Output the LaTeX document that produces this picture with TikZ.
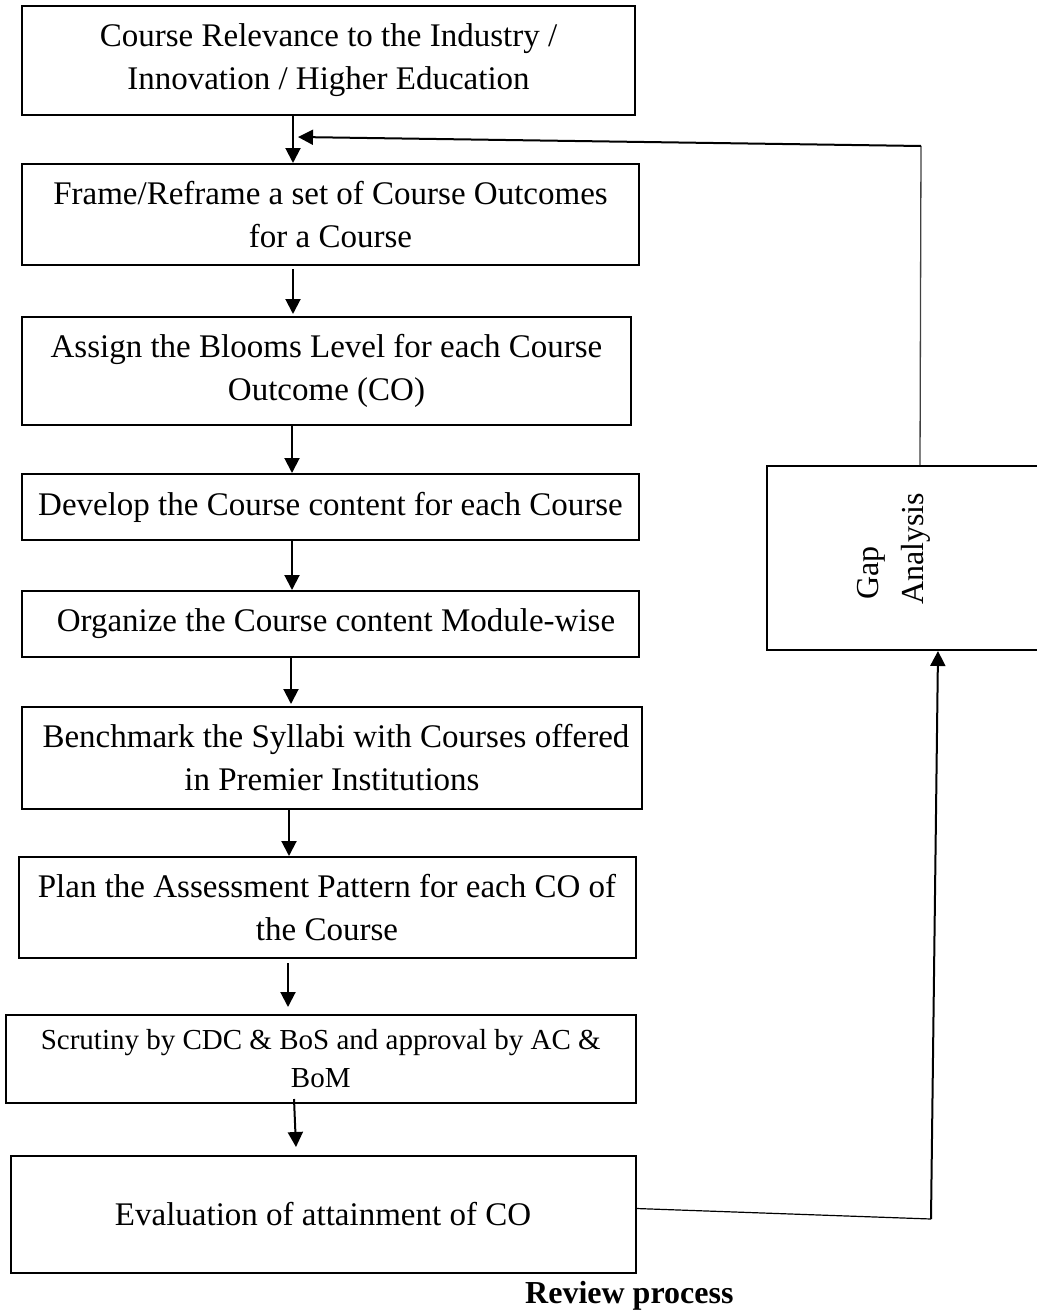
\documentclass[tikz,border=0pt]{standalone}
\usepackage{fontspec}
\setmainfont{Liberation Serif}
\usetikzlibrary{arrows.meta}
\begin{document}
\begin{tikzpicture}[x=1pt,y=-1pt,
  box/.style={draw, line width=2pt, align=center, inner sep=0pt,
              font=\fontsize{33}{43}\selectfont},
  smallbox/.style={box, font=\fontsize{29}{38}\selectfont},
  arr/.style={line width=2pt, -{Triangle[length=15pt,width=15pt]}},
  thinline/.style={line width=1.2pt},
  greyline/.style={line width=1.3pt, black!75},
  rottext/.style={rotate=90, anchor=base west, inner sep=0pt,
              font=\fontsize{32}{43}\selectfont},
]
\useasboundingbox (0,0) rectangle (1036,1314);
\fill[white] (0,0) rectangle (1036,1314);

\node[box, minimum width=613pt, minimum height=109pt] (b1) at (328.5,60.5)
  {Course Relevance to the Industry /\\Innovation / Higher Education};
\node[box, minimum width=617pt, minimum height=101pt] (b2) at (330.5,214.5)
  {Frame/Reframe a set of Course Outcomes\\for a Course};
\node[box, minimum width=609pt, minimum height=108pt] (b3) at (326.5,371)
  {Assign the Blooms Level for each Course\\Outcome (CO)};
\node[box, minimum width=617pt, minimum height=66pt] (b4) at (330.5,507)
  {Develop the Course content for each Course};
\node[box, minimum width=617pt, minimum height=66pt] (b5) at (330.5,624)
  {\hspace*{11pt}Organize the Course content Module-wise};
\node[box, minimum width=620pt, minimum height=102pt] (b6) at (332,758)
  {\hspace*{8pt}Benchmark the Syllabi with Courses offered\\in Premier Institutions};
\node[box, minimum width=617pt, minimum height=101pt] (b7) at (327,907.5)
  {Plan the Assessment Pattern for each CO of\\the Course};
\node[smallbox, minimum width=629.5pt, minimum height=88pt] (b8) at (320.75,1059)
  {Scrutiny by CDC \& BoS and approval by AC \&\\BoM};
\node[box, minimum width=625pt, minimum height=117pt] (b9) at (323,1214.5)
  {Evaluation of attainment of CO};

\node[draw, line width=2pt, minimum width=278pt, minimum height=184pt] (gap) at (906,558) {};
\node[rottext] (gapt1) at (878,600) {Gap};
\node[rottext] (gapt2) at (923,605) {Analysis};

\node[anchor=base west, inner sep=0pt, font=\fontsize{32}{38}\selectfont\bfseries] (rev) at (525,1303) {Review process};

% main flow arrows
\draw[arr] ([xshift=-35.5pt]b1.south) -- ([xshift=-37.5pt]b2.north);
\draw[arr] ([xshift=-37.5pt,yshift=-3pt]b2.south) -- ([xshift=-33.5pt,yshift=2pt]b3.north);
\draw[arr] ([xshift=-34.5pt]b3.south) -- ([xshift=-38.5pt]b4.north);
\draw[arr] ([xshift=-38.5pt]b4.south) -- ([xshift=-38.5pt]b5.north);
\draw[arr] ([xshift=-39.5pt]b5.south) -- ([xshift=-41pt,yshift=2pt]b6.north);
\draw[arr] ([xshift=-43pt]b6.south) -- ([xshift=-38pt]b7.north);
\draw[arr] ([xshift=-39pt,yshift=-4pt]b7.south) -- ([xshift=-32.75pt,yshift=7pt]b8.north);
\draw[arr] ([xshift=-26.75pt,yshift=5pt]b8.south) -- ([xshift=-27pt,yshift=8pt]b9.north);

% feedback loop
\coordinate (c1) at (931,1219);
\coordinate (c2) at (921,146);
\coordinate (c3) at (298,137);
\draw[thinline] ([yshift=6pt]b9.east) -- (c1);
\draw[arr] (c1) -- ([xshift=32pt]gap.south);
\draw[greyline] ([xshift=14pt]gap.north) -- (c2);
\draw[arr] (c2) -- (c3);
\end{tikzpicture}
\end{document}
